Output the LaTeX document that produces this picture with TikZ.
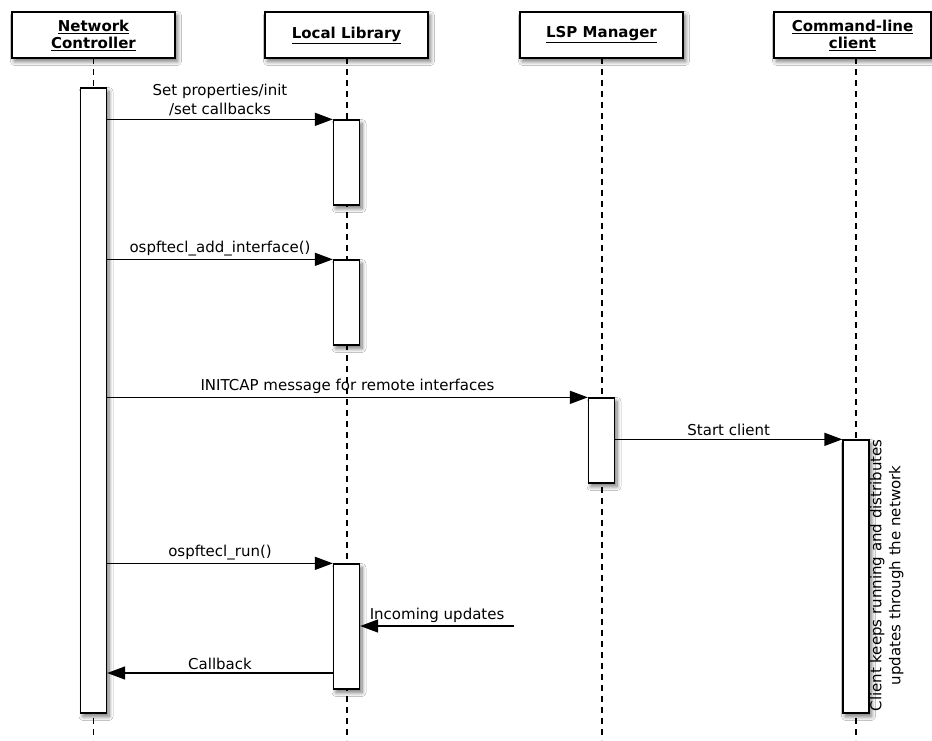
\documentclass[tikz,border=0pt]{standalone}
\usepackage{fontspec}
\setmainfont{DejaVu Sans}
\usetikzlibrary{arrows.meta,shadows.blur}

\tikzset{
  softshadow/.style={blur shadow={shadow xshift=2.5pt, shadow yshift=-3.5pt, shadow blur steps=8,
    shadow blur radius=4pt, shadow opacity=55}},
  actor/.style={draw=black, line width=1.6pt, fill=white, minimum width=163, minimum height=46,
    align=center, font=\bfseries\fontsize{15}{17}\selectfont, inner sep=0pt, softshadow},
  bar/.style={draw=black, line width=1.3pt, fill=white, minimum width=26, inner sep=0pt, softshadow},
  lifeline/.style={draw=black, line width=1.1pt, dash pattern=on 6pt off 5pt},
  msg/.style={draw=black, line width=1.4pt, -{Triangle[length=18pt, width=13pt]}},
  lbl/.style={font=\fontsize{15}{19}\selectfont, align=center, inner sep=3pt, text=black},
}

\begin{document}
\begin{tikzpicture}[x=1pt, y=-1pt]
  \useasboundingbox (0,0) rectangle (932,740);
  \fill[white] (0,0) rectangle (932,740);

  % lifelines
  \draw[lifeline] (93.5,58) -- (93.5,740);
  \draw[lifeline] (347,58) -- (347,740);
  \draw[lifeline] (602,58) -- (602,740);
  \draw[lifeline] (856,58) -- (856,740);

  % participants
  \node[actor] (nc)  at (93.5,35) {\underline{Network}\\\underline{Controller}};
  \node[actor] (ll)  at (346.5,35) {\underline{Local Library}};
  \node[actor] (lsp) at (601.5,35) {\underline{LSP Manager}};
  \node[actor, minimum width=157] (clc) at (852.5,35) {\underline{Command-line}\\\underline{client}};

  % activation bars
  \node[bar, minimum height=625] (ncbar) at (93.5,400.5) {};
  \node[bar, minimum height=85]  (ll1)   at (346.5,162.5) {};
  \node[bar, minimum height=85]  (ll2)   at (346.5,302.5) {};
  \node[bar, minimum height=85]  (lspb)  at (601.5,440.5) {};
  \node[bar, minimum height=273] (clcb)  at (856,576.5) {};
  \node[bar, minimum height=125] (ll3)   at (346.5,626.5) {};

  % messages
  \draw[msg] (ncbar.east |- ll1.north west) -- node[lbl, above] {Set properties/init\\/set callbacks} (ll1.north west);
  \draw[msg] (ncbar.east |- ll2.north west) -- node[lbl, above] {ospftecl\_add\_interface()} (ll2.north west);
  \draw[msg] (ncbar.east |- lspb.north west) -- node[lbl, above] {INITCAP message for remote interfaces} (lspb.north west);
  \draw[msg] (lspb.east |- clcb.north west) -- node[lbl, above] {Start client} (clcb.north west);
  \draw[msg] (ncbar.east |- ll3.north west) -- node[lbl, above] {ospftecl\_run()} (ll3.north west);

  \coordinate (upd) at (514,626);
  \draw[msg] (upd) -- node[lbl, above] {Incoming updates} (ll3.east |- upd);

  \coordinate (cb) at (0,673);
  \draw[msg] (ll3.west |- cb) -- node[lbl, above] {Callback} (ncbar.east |- cb);

  % note beside the command-line client
  \node[lbl, rotate=90, inner sep=0pt, anchor=north west, xshift=2pt] (note) at (clcb.south east)
    {Client keeps running and distributes\\updates through the network};
\end{tikzpicture}
\end{document}
